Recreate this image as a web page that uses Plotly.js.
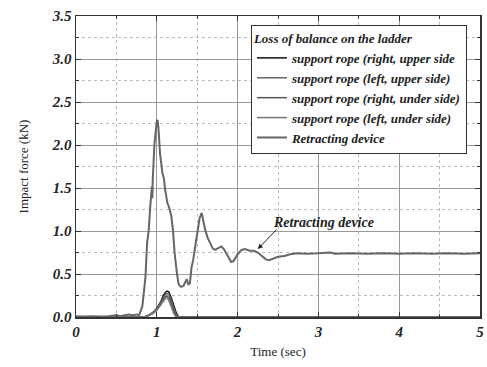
<!DOCTYPE html>
<html>
<head>
<meta charset="utf-8">
<script src="https://cdn.plot.ly/plotly-3.0.1.min.js"></script>
<style>html,body{margin:0;padding:0;background:#fff;}#chart{width:487px;height:367px;}</style>
</head>
<body>
<div id="chart"></div>
<script>
// Retracting device
const tRetract = [0,0.1,0.2,0.3,0.4,0.45,0.5,0.55,0.6,0.65,0.7,0.75,0.78,0.8,0.82,0.83,0.84,0.86,0.88,0.9,0.92,0.93,0.94,0.945,0.95,0.97,0.99,1.0,1.01,1.02,1.04,1.06,1.07,1.08,1.09,1.1,1.13,1.16,1.18,1.2,1.22,1.25,1.27,1.3,1.33,1.35,1.37,1.39,1.41,1.43,1.45,1.48,1.5,1.53,1.556,1.58,1.6,1.63,1.66,1.69,1.72,1.76,1.8,1.83,1.86,1.9,1.92,1.95,2.0,2.05,2.09,2.15,2.2,2.25,2.3,2.35,2.39,2.45,2.5,2.58,2.65,2.74,2.85,3.0,3.15,3.2,3.4,3.6,3.8,4.0,4.2,4.4,4.6,4.8,5.0];
const fRetract = [0.01,0.005,0.01,0.005,0.01,0.015,0.02,0.01,0.02,0.03,0.02,0.03,0.02,0.08,0.12,0.2,0.3,0.47,0.86,1.01,1.3,1.5,1.52,1.38,1.6,2.0,2.24,2.28,2.29,2.2,1.9,1.7,1.67,1.64,1.6,1.5,1.33,1.25,1.17,1.01,0.75,0.5,0.38,0.35,0.36,0.4,0.44,0.38,0.39,0.58,0.66,0.85,0.98,1.15,1.21,1.1,1.01,0.92,0.86,0.8,0.78,0.8,0.82,0.79,0.74,0.67,0.64,0.65,0.73,0.78,0.79,0.77,0.77,0.75,0.71,0.67,0.66,0.68,0.70,0.71,0.73,0.74,0.735,0.74,0.75,0.735,0.74,0.735,0.74,0.735,0.74,0.735,0.74,0.735,0.74];

// Support ropes
const tRope = [0,0.85,0.9,0.95,1.0,1.05,1.08,1.11,1.13,1.15,1.18,1.21,1.24,1.27,1.3,5];
const fRopeRU = [0,0,0.02,0.05,0.1,0.18,0.25,0.29,0.30,0.29,0.22,0.12,0.05,0.0,0,0];
const fRopeLU = [0,0,0.02,0.05,0.09,0.17,0.23,0.27,0.27,0.26,0.19,0.1,0.03,0.0,0,0];
const fRopeRD = [0,0,0.02,0.04,0.08,0.15,0.21,0.24,0.24,0.22,0.15,0.07,0.01,0,0,0];
const fRopeLD = [0,0,0.02,0.04,0.08,0.14,0.19,0.22,0.22,0.19,0.12,0.04,0.0,0,0,0];

const names = ["support rope (right, upper side","support rope (left, upper side)","support rope (right, under side)","support rope (left, under side)","Retracting device"];
const xTickVals = [0,1,2,3,4,5];
const xTickText = ["0","1","2","3","4","5"];
const yTickVals = [0,0.5,1,1.5,2,2.5,3,3.5];
const yTickText = ["0.0","0.5","1.0","1.5","2.0","2.5","3.0","3.5"];

const serif = 'Liberation Serif';
const tickFont = {family: serif, size: 15, weight: 'bold', style: 'italic', color: '#222'};
const bi = (s) => ({family: serif, size: s, weight: 'bold', style: 'italic', color: '#222'});

const traces = [
  {x: tRope, y: fRopeRU, name: names[0], mode: 'lines', line: {color: '#111', width: 1.5}},
  {x: tRope, y: fRopeLU, name: names[1], mode: 'lines', line: {color: '#666', width: 1.5}},
  {x: tRope, y: fRopeRD, name: names[2], mode: 'lines', line: {color: '#555', width: 1.5}},
  {x: tRope, y: fRopeLD, name: names[3], mode: 'lines', line: {color: '#777', width: 1.5}},
  {x: tRetract, y: fRetract, name: names[4], mode: 'lines', line: {color: '#666', width: 2}}
];

const axisCommon = {
  showline: true, linecolor: '#333', linewidth: 1.5, mirror: 'ticks',
  ticks: 'inside', ticklen: 5, tickcolor: '#333',
  showgrid: true, gridcolor: '#999', gridwidth: 1,
  zeroline: false, tickfont: tickFont, tickmode: 'array'
};

const layout = {
  width: 487, height: 367,
  margin: {l: 76, r: 7, t: 16, b: 50},
  paper_bgcolor: '#fff', plot_bgcolor: '#fff',
  font: {family: serif, color: '#222'},
  showlegend: true,
  xaxis: Object.assign({}, axisCommon, {
    range: [0, 5], tickvals: xTickVals, ticktext: xTickText,
    minor: {dtick: 0.5, tick0: 0, showgrid: true, griddash: 'dot', gridcolor: '#bbb', ticks: 'inside', ticklen: 3, tickcolor: '#333'},
    title: {text: 'Time (sec)', font: {family: serif, size: 13, color: '#222'}, standoff: 8}
  }),
  yaxis: Object.assign({}, axisCommon, {
    range: [0, 3.5], tickvals: yTickVals, ticktext: yTickText,
    minor: {dtick: 0.25, tick0: 0, showgrid: true, griddash: 'dot', gridcolor: '#bbb', ticks: 'inside', ticklen: 3, tickcolor: '#333'},
    title: {text: 'Impact force (kN)', font: {family: serif, size: 13, color: '#222'}, standoff: 20}
  }),
  legend: {
    x: 0.433, y: 0.97, xanchor: 'left', yanchor: 'top',
    bgcolor: '#fff', bordercolor: '#333', borderwidth: 1,
    font: bi(13),
    title: {text: 'Loss of balance on the ladder', font: bi(13)},
    itemwidth: 30, tracegroupgap: 0
  },
  annotations: [
    {
      x: 3.06, y: 1.1, xref: 'x', yref: 'y',
      text: 'Retracting device', showarrow: false,
      font: bi(14)
    },
    {
      x: 2.25, y: 0.79, xref: 'x', yref: 'y',
      ax: 2.5, ay: 1.035, axref: 'x', ayref: 'y',
      text: '', showarrow: true, arrowhead: 2, arrowsize: 1, arrowwidth: 1, arrowcolor: '#222'
    }
  ]
};

Plotly.newPlot('chart', traces, layout, {displayModeBar: false, staticPlot: true});
</script>
</body>
</html>
